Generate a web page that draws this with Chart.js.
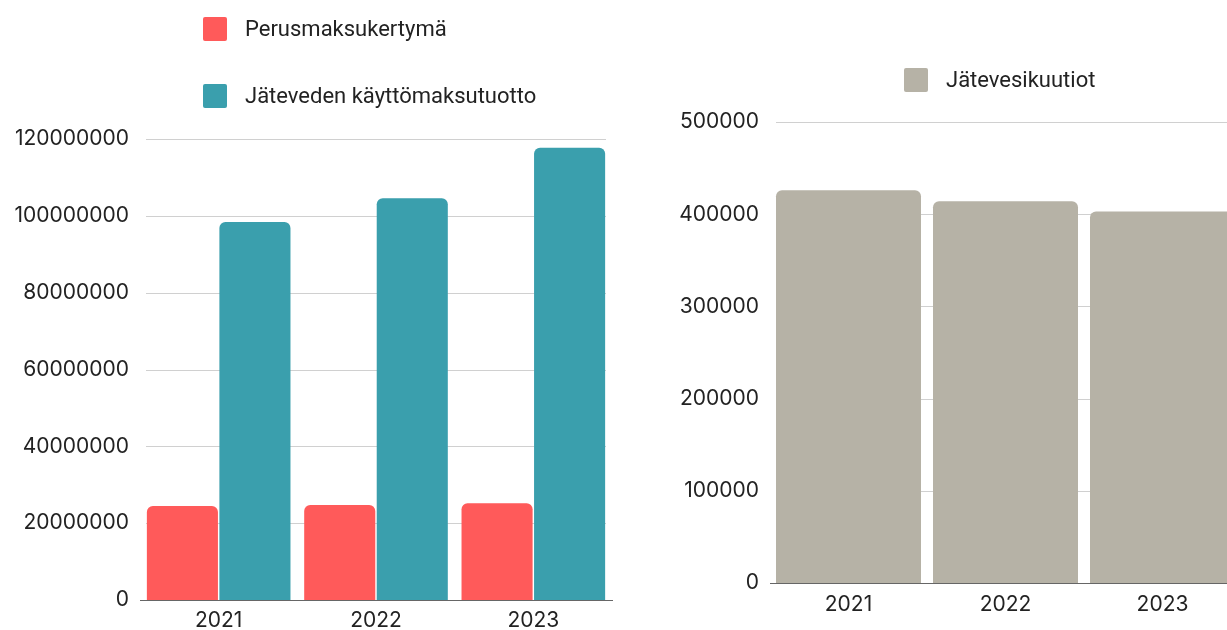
<!DOCTYPE html>
<html>
<head>
<meta charset="utf-8">
<script src="https://cdn.jsdelivr.net/npm/chart.js@4.4.1/dist/chart.umd.min.js"></script>
<style>
  html, body { margin: 0; padding: 0; background: #fff; overflow: hidden; }
  body { width: 1227px; height: 630px; position: relative; }
  .box { position: absolute; top: 0; height: 630px; width: 620px; }
  #leftBox { left: 0; }
  #rightBox { left: 640px; }
</style>
</head>
<body>
<div class="box" id="leftBox"><canvas id="chartMaksut"></canvas></div>
<div class="box" id="rightBox"><canvas id="chartKuutiot"></canvas></div>
<script>
'use strict';

// ─── DATA ─────────────────────────────────────────────────────

const YEARS = ['2021', '2022', '2023'];
const PERUSMAKSU = [24500000, 24700000, 25200000];
const KAYTTOMAKSU = [98400000, 104600000, 117700000];
const KUUTIOT = [426000, 414000, 403000];

const LEFT_LABELS = ['Perusmaksukertymä', 'Jäteveden käyttömaksutuotto'];
const RIGHT_LABELS = ['Jätevesikuutiot'];

// ─── STYLE ────────────────────────────────────────────────────

const COLORS = {
  red:  '#ff5a5a',
  teal: '#3a9fad',
  gray: '#b6b2a6',
  text: '#222222',
  grid: '#d0d0d0',
  axis: '#666666',
};
const LEGEND_FONT = '22px Roboto, sans-serif';
const TICK_FONT = { family: 'Inter, sans-serif', size: 21 };

Chart.defaults.font.family = 'Roboto, sans-serif';
Chart.defaults.font.size = 22;
Chart.defaults.color = COLORS.text;
Chart.defaults.animation = false;

// legend: a left-aligned block of rows, drawn by hand
const blockLegend = {
  id: 'blockLegend',
  afterDraw(chart, args, opts) {
    const ctx = chart.ctx;
    ctx.save();
    ctx.font = LEGEND_FONT;
    ctx.textBaseline = 'middle';
    chart.data.datasets.forEach((ds, i) => {
      const y = opts.rows[i];
      ctx.fillStyle = ds.backgroundColor;
      ctx.beginPath();
      ctx.roundRect(opts.x, y - 12, 24, 24, 2);
      ctx.fill();
      ctx.fillStyle = COLORS.text;
      ctx.fillText(ds.label, opts.x + 42, y + 1);
    });
    ctx.restore();
  }
};

// gridlines a little shorter than the chart area (bars start at the area edge)
const insetGrid = {
  id: 'insetGrid',
  beforeDatasetsDraw(chart, args, opts) {
    const { ctx, chartArea } = chart;
    const y = chart.scales.y;
    ctx.save();
    ctx.strokeStyle = COLORS.grid;
    ctx.lineWidth = 1;
    y.ticks.forEach(t => {
      if (t.value === 0) return;
      const py = Math.round(y.getPixelForValue(t.value)) + 0.5;
      ctx.beginPath();
      ctx.moveTo(chartArea.left + opts.inset, py);
      ctx.lineTo(chartArea.right - opts.inset, py);
      ctx.stroke();
    });
    ctx.restore();
  }
};

function yScale(max, step, axisWidth) {
  return {
    min: 0,
    max,
    afterFit: s => { s.width = axisWidth; },
    border: { display: false },
    grid: { display: false, drawTicks: false },
    ticks: { stepSize: step, padding: 11, font: TICK_FONT, callback: v => String(v) }
  };
}

function xScale(height, pad) {
  return {
    afterFit: s => { s.height = height; },
    border: { display: true, color: COLORS.axis, width: 1 },
    grid: { display: false, drawTicks: false },
    ticks: { padding: pad, font: TICK_FONT }
  };
}

// ─── MAKSUT ───────────────────────────────────────────────────

new Chart(document.getElementById('chartMaksut'), {
  type: 'bar',
  data: {
    labels: YEARS,
    datasets: [
      {
        label: LEFT_LABELS[0],
        data: PERUSMAKSU,
        backgroundColor: COLORS.red,
        borderRadius: 6,
        categoryPercentage: 0.922,
        barPercentage: 0.98
      },
      {
        label: LEFT_LABELS[1],
        data: KAYTTOMAKSU,
        backgroundColor: COLORS.teal,
        borderRadius: 6,
        categoryPercentage: 0.922,
        barPercentage: 0.98
      }
    ]
  },
  options: {
    responsive: true,
    maintainAspectRatio: false,
    layout: { padding: { top: 139, right: 8, bottom: 0, left: 0 } },
    plugins: {
      legend: { display: false },
      tooltip: { enabled: false },
      blockLegend: { x: 203, rows: [29, 96] },
      insetGrid: { inset: 6 }
    },
    scales: {
      x: xScale(30, 8),
      y: yScale(120000000, 20000000, 140)
    }
  },
  plugins: [blockLegend, insetGrid]
});

// ─── KUUTIOT ──────────────────────────────────────────────────

new Chart(document.getElementById('chartKuutiot'), {
  type: 'bar',
  data: {
    labels: YEARS,
    datasets: [{
      label: RIGHT_LABELS[0],
      data: KUUTIOT,
      backgroundColor: COLORS.gray,
      borderRadius: 6,
      categoryPercentage: 0.9236,
      barPercentage: 1
    }]
  },
  options: {
    responsive: true,
    maintainAspectRatio: false,
    layout: { padding: { top: 122, right: 19, bottom: 0, left: 0 } },
    plugins: {
      legend: { display: false },
      tooltip: { enabled: false },
      blockLegend: { x: 264, rows: [80] },
      insetGrid: { inset: 6 }
    },
    scales: {
      x: xScale(47, 9),
      y: yScale(500000, 100000, 130)
    }
  },
  plugins: [blockLegend, insetGrid]
});
</script>
</body>
</html>
